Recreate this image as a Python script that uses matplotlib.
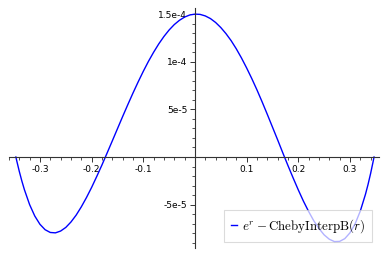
import matplotlib
matplotlib.use("Agg")
import matplotlib.pyplot as plt
from matplotlib.ticker import FixedLocator, MultipleLocator

plt.rcParams['axes.unicode_minus'] = False
plt.rcParams['mathtext.fontset'] = 'cm'

# values (y in units of 1e-5)
r = [-0.3466, -0.345, -0.34, -0.335, -0.33, -0.32, -0.31, -0.30, -0.29, -0.28,
     -0.27, -0.26, -0.25, -0.24, -0.23, -0.22, -0.21, -0.20, -0.19, -0.18,
     -0.17, -0.16, -0.15, -0.14, -0.13, -0.12, -0.11, -0.10, -0.09, -0.08,
     -0.07, -0.06, -0.05, -0.04, -0.03, -0.02, -0.01, 0.0,
     0.01, 0.02, 0.03, 0.04, 0.05, 0.06, 0.07, 0.08, 0.09, 0.10,
     0.11, 0.12, 0.13, 0.14, 0.15, 0.16, 0.17, 0.18, 0.19, 0.20,
     0.21, 0.22, 0.23, 0.24, 0.25, 0.26, 0.27, 0.28, 0.29, 0.30,
     0.31, 0.32, 0.33, 0.335, 0.34, 0.345, 0.3466]
err = [0.0, -0.38, -1.51, -2.53, -3.45, -5.01, -6.21, -7.08, -7.65, -7.94,
       -7.98, -7.79, -7.41, -6.84, -6.12, -5.25, -4.27, -3.20, -2.04, -0.84,
       0.42, 1.69, 2.97, 4.25, 5.50, 6.72, 7.89, 9.01, 10.06, 11.02,
       11.90, 12.68, 13.36, 13.93, 14.38, 14.72, 14.94, 15.03,
       15.00, 14.84, 14.56, 14.15, 13.62, 12.98, 12.24, 11.38, 10.42, 9.37,
       8.25, 7.06, 5.80, 4.49, 3.15, 1.81, 0.44, -0.90, -2.20, -3.46,
       -4.65, -5.73, -6.71, -7.52, -8.19, -8.65, -8.90, -8.88, -8.59, -7.98,
       -7.03, -5.69, -3.93, -2.89, -1.73, -0.44, 0.0]
err = [v * 1e-5 for v in err]

xticks = [-0.3, -0.2, -0.1, 0.1, 0.2, 0.3]
xlabels = ['-0.3', '-0.2', '-0.1', '0.1', '0.2', '0.3']
yticks = [-5e-5, 5e-5, 1e-4, 1.5e-4]
ylabels = ['-5e-5', '5e-5', '1e-4', '1.5e-4']

fig = plt.figure(figsize=(3.89, 2.56), dpi=100)
ax = fig.add_axes([0.023, 0.031, 0.951, 0.938])

ax.plot(r, err, color='blue', lw=1.0, label=r'$e^r - \mathrm{ChebyInterpB}(r)$')

ax.set_xlim(-0.36, 0.356)
ax.set_ylim(-9.58e-5, 1.568e-4)

for s in ['top', 'right']:
    ax.spines[s].set_visible(False)
ax.spines['left'].set_position(('data', 0))
ax.spines['bottom'].set_position(('data', 0))
for s in ['left', 'bottom']:
    ax.spines[s].set_linewidth(0.8)
    ax.spines[s].set_color('#333333')

ax.xaxis.set_major_locator(FixedLocator(xticks))
ax.set_xticklabels(xlabels)
ax.xaxis.set_minor_locator(MultipleLocator(0.02))
ax.yaxis.set_major_locator(FixedLocator(yticks))
ax.set_yticklabels(ylabels)
ax.yaxis.set_minor_locator(MultipleLocator(1e-5))

ax.tick_params(which='major', direction='out', length=3.5, width=0.7,
               labelsize=6.5, color='#333333', pad=2)
ax.tick_params(which='minor', direction='out', length=2, width=0.6, color='#333333')

leg = ax.legend(loc='lower right', fontsize=9.3, frameon=True, fancybox=False,
                framealpha=0.7, edgecolor='#cccccc', handlelength=0.5,
                handletextpad=0.4, borderaxespad=0.5, borderpad=0.55)
leg.get_frame().set_linewidth(0.8)

fig.savefig('out.png', dpi=100)
